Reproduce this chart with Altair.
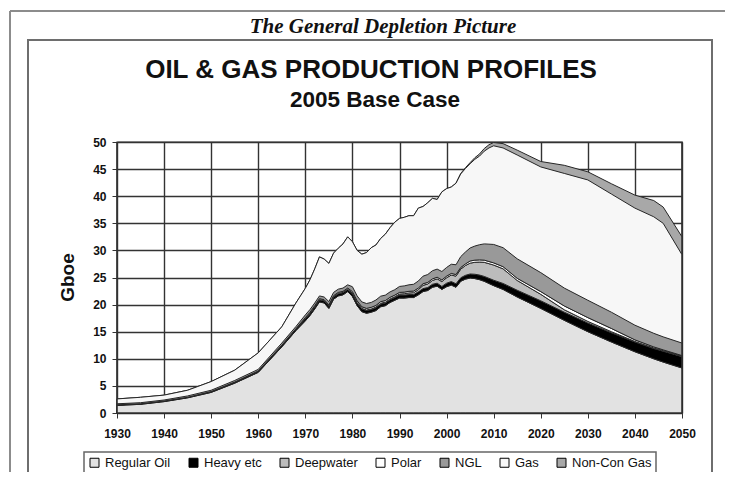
import altair as alt
import pandas as pd

years = [1930, 1935, 1940, 1945, 1950, 1955, 1960, 1965, 1968,
         1970, 1971, 1972, 1973, 1974, 1975, 1976, 1977, 1978, 1979,
         1980, 1981, 1982, 1983, 1984, 1985, 1986, 1987, 1988, 1989,
         1990, 1991, 1992, 1993, 1994, 1995, 1996, 1997, 1998, 1999,
         2000, 2001, 2002, 2003, 2004, 2005, 2006, 2007, 2008, 2009,
         2010, 2012, 2015, 2020, 2025, 2030, 2035, 2040, 2044, 2046, 2050]

regular_oil = [1.4, 1.6, 2.1, 2.8, 3.8, 5.5, 7.5, 12.2, 15.2,
               17.0, 18.0, 19.2, 20.5, 20.3, 19.3, 21.0, 21.6, 21.8, 22.4,
               21.5, 19.8, 18.7, 18.4, 18.6, 18.9, 19.6, 19.8, 20.4, 20.8,
               21.2, 21.2, 21.3, 21.3, 21.8, 22.4, 22.6, 23.2, 23.4, 22.8,
               23.3, 23.6, 23.2, 24.3, 24.7, 24.9, 24.8, 24.6, 24.3, 23.9,
               23.5, 22.8, 21.4, 19.3, 17.1, 15.0, 13.1, 11.3, 10.0, 9.4, 8.3]

heavy_etc = [0.1, 0.1, 0.1, 0.1, 0.15, 0.2, 0.25, 0.3, 0.35,
             0.4, 0.4, 0.4, 0.4, 0.4, 0.4, 0.4, 0.4, 0.4, 0.4,
             0.5, 0.5, 0.5, 0.5, 0.5, 0.5, 0.5, 0.5, 0.5, 0.5,
             0.55, 0.55, 0.55, 0.55, 0.55, 0.55, 0.55, 0.55, 0.55, 0.55,
             0.65, 0.65, 0.65, 0.65, 0.7, 0.75, 0.8, 0.85, 0.9, 0.95,
             1.0, 1.1, 1.25, 1.4, 1.5, 1.6, 1.7, 1.8, 1.9, 2.0, 2.1]

deepwater = [0, 0, 0, 0, 0, 0, 0, 0, 0,
             0, 0, 0, 0, 0, 0.05, 0.05, 0.05, 0.05, 0.05,
             0.1, 0.1, 0.1, 0.1, 0.1, 0.15, 0.15, 0.15, 0.15, 0.15,
             0.2, 0.25, 0.3, 0.35, 0.4, 0.6, 0.65, 0.7, 0.8, 0.9,
             1.0, 1.2, 1.4, 1.6, 1.8, 2.0, 2.2, 2.4, 2.6, 2.7,
             2.8, 2.7, 1.8, 1.2, 0.45, 0.3, 0.2, 0.1, 0.1, 0.1, 0.1]

polar = [0, 0, 0, 0, 0, 0, 0, 0, 0,
         0.2, 0.2, 0.2, 0.2, 0.2, 0.2, 0.2, 0.2, 0.2, 0.2,
         0.3, 0.3, 0.3, 0.3, 0.3, 0.3, 0.3, 0.3, 0.3, 0.3,
         0.3, 0.3, 0.3, 0.3, 0.3, 0.3, 0.3, 0.3, 0.3, 0.3,
         0.3, 0.3, 0.3, 0.3, 0.3, 0.4, 0.4, 0.4, 0.4, 0.4,
         0.4, 0.4, 0.4, 0.5, 0.7, 0.7, 0.6, 0.3, 0.2, 0.15, 0.1]

ngl = [0.2, 0.2, 0.2, 0.25, 0.25, 0.3, 0.3, 0.4, 0.4,
       0.5, 0.5, 0.5, 0.5, 0.5, 0.6, 0.6, 0.6, 0.6, 0.6,
       0.9, 0.9, 0.9, 0.9, 0.9, 1.0, 1.0, 1.0, 1.0, 1.0,
       1.1, 1.15, 1.2, 1.25, 1.3, 1.4, 1.45, 1.5, 1.5, 1.55,
       1.6, 1.7, 1.8, 2.0, 2.2, 2.4, 2.6, 2.8, 3.0, 3.2,
       3.4, 3.5, 3.6, 3.5, 3.3, 3.2, 3.0, 2.7, 2.5, 2.4, 2.3]

# upper outlines (cumulative) of the gas layers
gas_top = [2.6, 2.9, 3.3, 4.2, 5.8, 7.9, 11.1, 15.9, 20.3,
           23.0, 24.6, 26.6, 28.8, 28.4, 27.6, 29.5, 30.4, 31.2, 32.5,
           31.6, 30.0, 29.3, 29.6, 30.5, 31.0, 32.2, 33.0, 34.2, 35.2,
           35.9, 36.1, 36.4, 36.4, 37.8, 38.1, 38.8, 39.6, 39.4, 40.8,
           41.4, 41.7, 42.4, 44.1, 45.1, 46.0, 46.8, 47.4, 48.3, 48.9,
           49.3, 48.9, 47.6, 45.4, 44.2, 43.0, 40.4, 37.8, 36.2, 35.0, 29.2]

total_top = [2.6, 2.9, 3.3, 4.2, 5.8, 7.9, 11.1, 15.9, 20.3,
             23.0, 24.6, 26.6, 28.8, 28.4, 27.6, 29.5, 30.4, 31.2, 32.5,
             31.6, 30.0, 29.3, 29.6, 30.5, 31.0, 32.2, 33.0, 34.2, 35.2,
             35.9, 36.1, 36.4, 36.4, 37.8, 38.1, 38.8, 39.6, 39.4, 40.8,
             41.4, 41.7, 42.4, 44.2, 45.25, 46.2, 47.1, 47.8, 48.8, 49.5,
             49.9, 49.7, 48.5, 46.4, 45.7, 44.5, 42.3, 40.2, 39.2, 38.0, 32.5]

series_names = ["Regular Oil", "Heavy etc", "Deepwater", "Polar", "NGL", "Gas", "Non-Con Gas"]
series_colors = ["#e2e2e2", "#000000", "#bcbcbc", "#ffffff", "#999999", "#f7f7f7", "#a8a8a8"]

x_ticks = [1930, 1940, 1950, 1960, 1970, 1980, 1990, 2000, 2010, 2020, 2030, 2040, 2050]
y_ticks = [0, 5, 10, 15, 20, 25, 30, 35, 40, 45, 50]

W, H = 565, 271

rows = []
for name, vals in zip(series_names[:5], [regular_oil, heavy_etc, deepwater, polar, ngl]):
    for yr, v in zip(years, vals):
        rows.append({"year": yr, "value": v, "series": name, "ord": series_names.index(name)})
stack_df = pd.DataFrame(rows)
gas_df = pd.DataFrame({"year": years, "top": gas_top, "series": "Gas"})
noncon_df = pd.DataFrame({"year": years, "top": total_top, "series": "Non-Con Gas"})

color = alt.Color("series:N",
                  scale=alt.Scale(domain=series_names, range=series_colors),
                  legend=alt.Legend(title=None, orient="none", direction="horizontal",
                                    legendX=-33, legendY=310, symbolType="square",
                                    symbolSize=81, symbolStrokeColor="#000000",
                                    symbolStrokeWidth=1, labelFont="Liberation Sans",
                                    labelFontSize=13, labelColor="#111111",
                                    columnPadding=16, labelOffset=4, padding=4,
                                    strokeColor="#666666"))

grid_color = "#333333"

xenc = alt.X("year:Q", scale=alt.Scale(domain=[1930, 2050], nice=False, zero=False),
             axis=alt.Axis(values=x_ticks, format="d", title=None, labelFontWeight="bold",
                           labelFontSize=12, labelFont="Liberation Sans", labelColor="#111111",
                           labelFlush=False, labelOverlap=False,
                           tickSize=5, labelPadding=10, gridColor=grid_color, gridWidth=1.4,
                           domainColor="#333333", tickColor="#333333"))

def yenc(field, stack):
    return alt.Y(field, stack=stack, scale=alt.Scale(domain=[0, 50], nice=False),
                 axis=alt.Axis(values=y_ticks, title="Gboe", titleFontSize=19,
                               titleFont="Liberation Sans", titleFontWeight="bold",
                               titleColor="#111111", titleAngle=270, titleX=-50, titleY=135,
                               titleAlign="center", titleBaseline="middle",
                               labelFontWeight="bold", labelFontSize=12,
                               labelFont="Liberation Sans", labelColor="#111111",
                               labelFlush=False,
                               tickSize=5, labelPadding=6, gridColor=grid_color,
                               gridWidth=1.4, domainColor="#333333", tickColor="#333333"))

area_kw = dict(stroke="#262626", strokeWidth=1, interpolate="linear")

noncon = alt.Chart(noncon_df).mark_area(**area_kw).encode(
    x=xenc, y=yenc("top:Q", None), color=color)
gas = alt.Chart(gas_df).mark_area(**area_kw).encode(
    x=xenc, y=yenc("top:Q", None), color=color)
oil = alt.Chart(stack_df).mark_area(**area_kw).encode(
    x=xenc, y=yenc("value:Q", "zero"), color=color, order=alt.Order("ord:Q"))

one = pd.DataFrame({"k": [0]})
left_rule = alt.Chart(one).mark_rule(color="#333333", strokeWidth=1.2).encode(
    x=alt.value(0), y=alt.value(0), y2=alt.value(H))
right_rule = alt.Chart(one).mark_rule(color="#333333", strokeWidth=1.2).encode(
    x=alt.value(W), y=alt.value(0), y2=alt.value(H))
bottom_rule = alt.Chart(one).mark_rule(color="#333333", strokeWidth=1.2).encode(
    x=alt.value(0), x2=alt.value(W), y=alt.value(H))

outer_top = alt.Chart(one).mark_rule(color="#8c8c8c", strokeWidth=2).encode(
    x=alt.value(-107), x2=alt.value(608), y=alt.value(-131))
outer_left = alt.Chart(one).mark_rule(color="#8c8c8c", strokeWidth=2).encode(
    x=alt.value(-107), y=alt.value(-131), y2=alt.value(340))
inner_box = alt.Chart(one).mark_rect(filled=False, stroke="#6e6e6e", strokeWidth=2).encode(
    x=alt.value(-89), x2=alt.value(595), y=alt.value(-102), y2=alt.value(334))

header = alt.Chart(pd.DataFrame({"t": ["The General Depletion Picture"]})).mark_text(
    font="Liberation Serif", fontSize=21, fontWeight="bold", fontStyle="italic",
    color="#111111", align="center", baseline="middle").encode(
    text="t:N", x=alt.value(266), y=alt.value(-115))
title1 = alt.Chart(pd.DataFrame({"t": ["OIL & GAS PRODUCTION PROFILES"]})).mark_text(
    font="Liberation Sans", fontSize=26, fontWeight="bold", color="#111111",
    align="center", baseline="middle").encode(
    text="t:N", x=alt.value(254), y=alt.value(-72))
title2 = alt.Chart(pd.DataFrame({"t": ["2005 Base Case"]})).mark_text(
    font="Liberation Sans", fontSize=22.5, fontWeight="bold", color="#111111",
    align="center", baseline="middle").encode(
    text="t:N", x=alt.value(258), y=alt.value(-42))

chart = alt.layer(
    noncon, gas, oil, left_rule, right_rule, bottom_rule,
    outer_top, outer_left, inner_box, header, title1, title2
).properties(
    width=W, height=H,
    padding={"left": 109, "top": 134, "right": 43, "bottom": 59},
    autosize=alt.AutoSizeParams(type="none"),
    background="#ffffff"
).configure_view(stroke=grid_color, strokeWidth=1.4
).configure_legend(strokeWidth=1.5)

chart.save("out.html", embed_options={"renderer": "svg", "actions": False})
